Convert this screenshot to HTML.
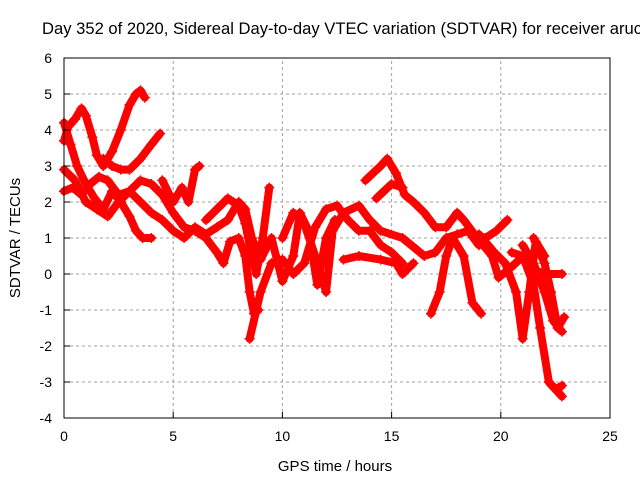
<!DOCTYPE html>
<html><head><meta charset="utf-8"><style>
body{margin:0;background:#fff}
svg{display:block;font-family:"Liberation Sans",sans-serif}
</style></head><body>
<svg id="chart" width="640" height="480" viewBox="0 0 640 480" xmlns="http://www.w3.org/2000/svg">
<rect width="640" height="480" fill="#fff"/>
<text x="42" y="34" font-size="16.6" fill="#000">Day 352 of 2020, Sidereal Day-to-day VTEC variation (SDTVAR) for receiver aruc</text>
<g id="grid"></g>
<g id="marks"></g>
<rect x="64" y="58" width="546" height="360" fill="none" stroke="#000" stroke-width="1"/>
<g id="ticks"></g>
<text x="335" y="471" font-size="15" text-anchor="middle">GPS time / hours</text>
<text transform="translate(20,238) rotate(-90)" font-size="15" text-anchor="middle">SDTVAR / TECUs</text>
</svg>
<script>
const xTicks=[0,5,10,15,20,25];
const yTicks=[-4,-3,-2,-1,0,1,2,3,4,5,6];
const track1=[[0,3.7],[0.2,4.1],[0.5,4.3],[0.8,4.6],[1.0,4.4],[1.3,3.8],[1.5,3.3],[1.8,3.0],[2.2,3.4],[2.6,4.0],[3.0,4.7],[3.3,5.0],[3.5,5.1],[3.7,4.9]];
const track2=[[0,4.2],[0.3,3.6],[0.6,3.0],[1.0,2.5],[1.4,2.1],[1.8,1.8],[2.2,2.3],[2.6,2.0],[3.0,1.6],[3.3,1.2],[3.6,1.0],[4.0,1.0]];
const track3=[[1.8,3.2],[2.2,3.0],[2.6,2.9],[3.0,2.9],[3.5,3.2],[4.0,3.6],[4.4,3.9]];
const track4=[[0,2.3],[0.4,2.4],[0.8,2.2],[1.2,2.5],[1.6,2.7],[2.0,2.6],[2.5,2.2],[3.0,2.3],[3.5,2.6],[4.0,2.5],[4.5,2.2],[5.0,1.7],[5.5,1.3],[6.0,1.2],[6.5,1.0],[7.0,0.6],[7.3,0.3],[7.6,0.9],[8.0,1.0],[8.3,0.5],[8.5,-0.5],[8.7,-1.1],[8.9,-1.0]];
const track5=[[0,2.9],[0.5,2.6],[1.0,2.0],[1.5,1.8],[2.0,1.6],[2.5,2.0],[3.0,2.3],[3.5,2.0],[4.0,1.7],[4.5,1.5],[5.0,1.2],[5.5,1.0],[6.0,1.3],[6.5,1.1],[7.0,1.3],[7.5,1.5],[8.0,2.0],[8.3,1.8],[8.6,1.0],[9.0,0.4],[9.5,1.0],[10.0,-0.2],[10.5,0.5],[10.8,1.7],[11.2,1.2],[11.6,-0.3],[12.0,1.0],[12.4,1.5]];
const track6=[[4.5,2.6],[5.0,2.0],[5.4,2.4],[5.7,2.0],[6.0,2.9],[6.2,3.0]];
const track7=[[6.5,1.5],[7.0,1.8],[7.5,2.1],[8.0,1.9],[8.3,1.4],[8.5,0.8],[8.8,0.0],[9.1,1.0],[9.4,2.4]];
const track8=[[8.5,-1.8],[9.0,-0.5],[9.5,0.3],[10.0,0.4],[10.5,0.0],[11.0,0.3],[11.5,1.3],[12.0,1.8],[12.5,1.9],[13.0,1.5],[13.5,1.2],[14.0,1.2],[14.5,0.8],[15.0,0.6],[15.5,0.3]];
const track9=[[10.0,1.0],[10.5,1.7],[11.0,1.4],[11.5,0.5],[12.0,-0.5],[12.3,1.2],[12.8,1.7],[13.5,1.9],[14.0,1.5],[14.5,1.2],[15.5,1.0],[16.5,0.5],[17.0,0.6],[17.5,1.0],[18.0,1.1],[18.5,1.2],[19.0,0.8]];
const track10=[[12.8,0.4],[13.5,0.5],[14.5,0.4],[15.2,0.3],[15.5,0.0],[16.0,0.3]];
const track11=[[13.8,2.6],[14.5,3.0],[14.8,3.2],[15.2,2.8],[15.6,2.2],[16.0,2.0],[16.5,1.7],[17.0,1.3],[17.5,1.3],[18.0,1.7],[18.3,1.5],[18.8,1.1],[19.3,1.0],[19.8,1.2],[20.3,1.5]];
const track12=[[14.3,2.1],[15.0,2.5],[15.5,2.4]];
const track13=[[16.8,-1.1],[17.2,-0.5],[17.5,0.5],[17.8,1.0],[18.3,0.5],[18.7,-0.8],[19.1,-1.1]];
const track14=[[18.6,1.2],[19.2,0.8],[19.6,0.5],[19.9,-0.1],[20.5,0.2],[21.2,0.6],[21.6,0.1],[22.0,0.0],[22.8,0.0]];
const track15=[[19.0,1.1],[19.7,0.6],[20.2,0.3],[20.7,-0.5],[21.0,-1.8],[21.3,-0.5],[21.6,0.9],[22.0,0.5]];
const track16=[[20.5,0.6],[21.0,0.5],[21.5,-0.3],[21.8,-1.5],[22.2,-3.0],[22.5,-3.2],[22.8,-3.1]];
const track17=[[21.5,1.0],[22.0,0.3],[22.3,-0.5],[22.6,-1.5],[22.9,-1.2]];
const track18=[[21.0,0.8],[21.5,0.3],[22.0,-0.5],[22.4,-1.3],[22.8,-1.6]];
const track19=[[22.2,-3.0],[22.8,-3.4]];
const tracks=[track1,track2,track3,track4,track5,track6,track7,track8,track9,track10,track11,track12,track13,track14,track15,track16,track17,track18,track19];

const NS="http://www.w3.org/2000/svg";
const X0=64,X1=610,Y0=418,Y1=58;
function sx(v){return X0+(v-0)/(25-0)*(X1-X0);}
function sy(v){return Y0-(v-(-4))/(6-(-4))*(Y0-Y1);}
const grid=document.getElementById('grid'),ticks=document.getElementById('ticks'),marks=document.getElementById('marks');
function mk(tag,attrs,parent){const e=document.createElementNS(NS,tag);for(const k in attrs)e.setAttribute(k,attrs[k]);parent.appendChild(e);return e;}
xTicks.forEach(t=>{
  const x=sx(t);
  if(t>0&&t<25){const g=mk('line',{x1:x,y1:Y0,x2:x,y2:Y1,stroke:'#a0a0a0','stroke-dasharray':'3,3'},grid);
  
  }
  const l=mk('line',{x1:x,y1:Y0,x2:x,y2:Y0-6,stroke:'#000'},ticks);
  
  
  const tx=mk('text',{x:x,y:Y0+23,'font-size':14,'text-anchor':'middle'},ticks);tx.textContent=t;
  
  
});
yTicks.forEach(t=>{
  const y=sy(t);
  if(t>-4&&t<6){const g=mk('line',{x1:X0,y1:y,x2:X1,y2:y,stroke:'#a0a0a0','stroke-dasharray':'3,3'},grid);
  
  }
  const l=mk('line',{x1:X0,y1:y,x2:X0+6,y2:y,stroke:'#000'},ticks);
  
  
  const tx=mk('text',{x:X0-12,y:y+5,'font-size':14,'text-anchor':'end'},ticks);tx.textContent=t;
  
  
});
tracks.forEach((tr,i)=>{
  const pts=tr.map(p=>sx(p[0])+','+sy(p[1])).join(' ');
  const pl=mk('polyline',{points:pts,fill:'none',stroke:'#ff0000','stroke-width':8,'stroke-linejoin':'round','stroke-linecap':'round'},marks);
  
  
  tr.forEach(p=>{
    const x=sx(p[0]),y=sy(p[1]);
    const m=mk('path',{d:`M${x-5},${y}H${x+5}M${x},${y-5}V${y+5}`,stroke:'#ff0000','stroke-width':1.5},marks);
    
    
  });
});
</script>
</body></html>
